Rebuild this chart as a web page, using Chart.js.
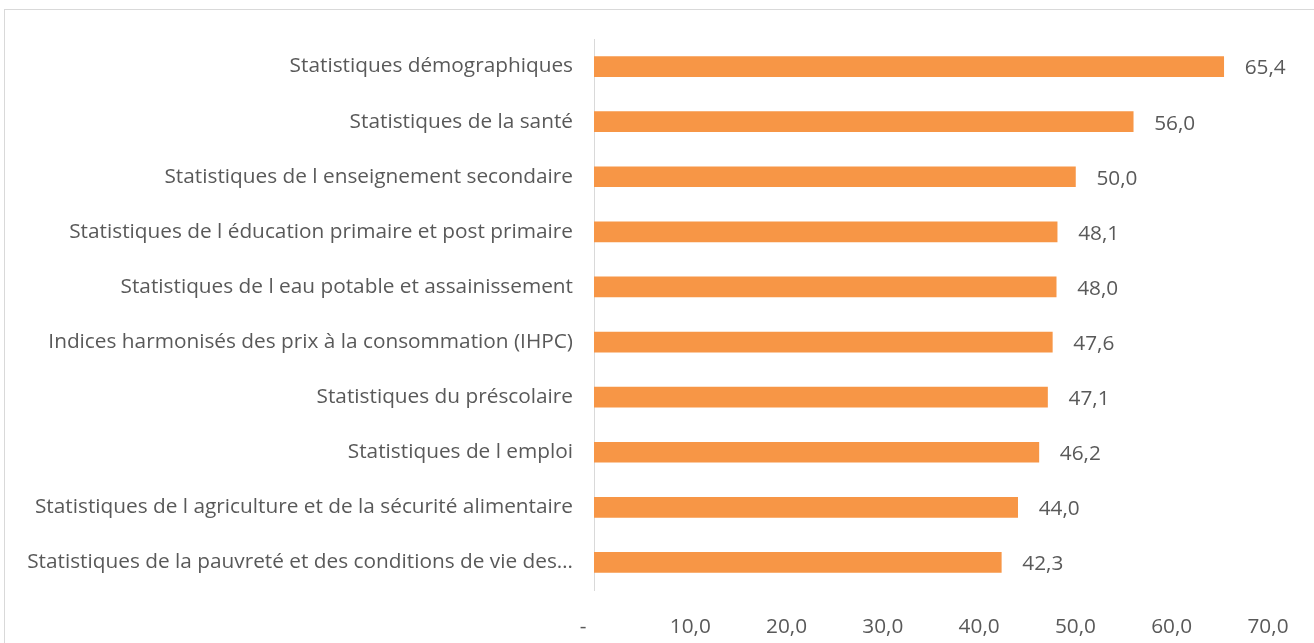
<!DOCTYPE html>
<html>
<head>
<meta charset="utf-8">
<script src="https://cdn.jsdelivr.net/npm/chart.js@4/dist/chart.umd.min.js"></script>
<style>
html,body{margin:0;padding:0;background:#fff;overflow:hidden;}
#frame{position:absolute;left:4px;top:9px;width:1330px;height:660px;border:1px solid #d9d9d9;box-sizing:border-box;}
#wrap{position:absolute;left:0;top:0;width:1314px;height:643px;}
</style>
</head>
<body>
<div id="frame"></div>
<div id="wrap"><canvas id="c" width="1314" height="643"></canvas></div>
<script>
const categories = [
  "Statistiques démographiques",
  "Statistiques de la santé",
  "Statistiques de l enseignement secondaire",
  "Statistiques de l éducation primaire et post primaire",
  "Statistiques de l eau potable et assainissement",
  "Indices harmonisés des prix à la consommation (IHPC)",
  "Statistiques du préscolaire",
  "Statistiques de l emploi",
  "Statistiques de l agriculture et de la sécurité alimentaire",
  "Statistiques de la pauvreté et des conditions de vie des…"
];
const values = [65.4, 56.0, 50.0, 48.1, 48.0, 47.6, 47.1, 46.2, 44.0, 42.3];
const xTicks = [0, 10, 20, 30, 40, 50, 60, 70];

const FONT = "'Open Sans'";
const FSIZE = 20.8;
const TXT = "#595959";
const fmt = v => v.toFixed(1).replace('.', ',');

const valueLabels = {
  id: 'valueLabels',
  afterDatasetsDraw(chart) {
    const ctx = chart.ctx;
    const meta = chart.getDatasetMeta(0);
    ctx.save();
    ctx.font = FSIZE + "px " + FONT;
    ctx.fillStyle = TXT;
    ctx.textBaseline = 'middle';
    ctx.textAlign = 'left';
    meta.data.forEach((bar, i) => {
      ctx.fillText(fmt(values[i]), bar.x + 21, bar.y + 2);
    });
    ctx.restore();
  }
};

new Chart(document.getElementById('c'), {
  type: 'bar',
  data: {
    labels: categories,
    datasets: [{
      data: values,
      backgroundColor: '#F79646',
      borderWidth: 0,
      barThickness: 20
    }]
  },
  options: {
    indexAxis: 'y',
    responsive: false,
    animation: false,
    layout: { padding: { left: 0, right: 46, top: 39, bottom: 0 } },
    plugins: { legend: { display: false }, tooltip: { enabled: false } },
    scales: {
      x: {
        min: 0, max: 70,
        afterBuildTicks(scale) { scale.ticks = xTicks.map(v => ({ value: v })); },
        afterFit(scale) { scale.height = 53; },
        grid: { display: false, drawTicks: false },
        border: { display: false },
        ticks: {
          color: TXT,
          font: { family: FONT, size: FSIZE },
          padding: 25,
          callback: v => v === 0 ? '-    ' : fmt(v)
        }
      },
      y: {
        afterFit(scale) { scale.width = 594; },
        grid: { display: false, drawTicks: false },
        border: { display: true, color: '#d9d9d9', width: 1 },
        ticks: {
          color: TXT,
          font: { family: FONT, size: FSIZE },
          padding: 21,
          autoSkip: false
        }
      }
    }
  },
  plugins: [valueLabels]
});
</script>
</body>
</html>
